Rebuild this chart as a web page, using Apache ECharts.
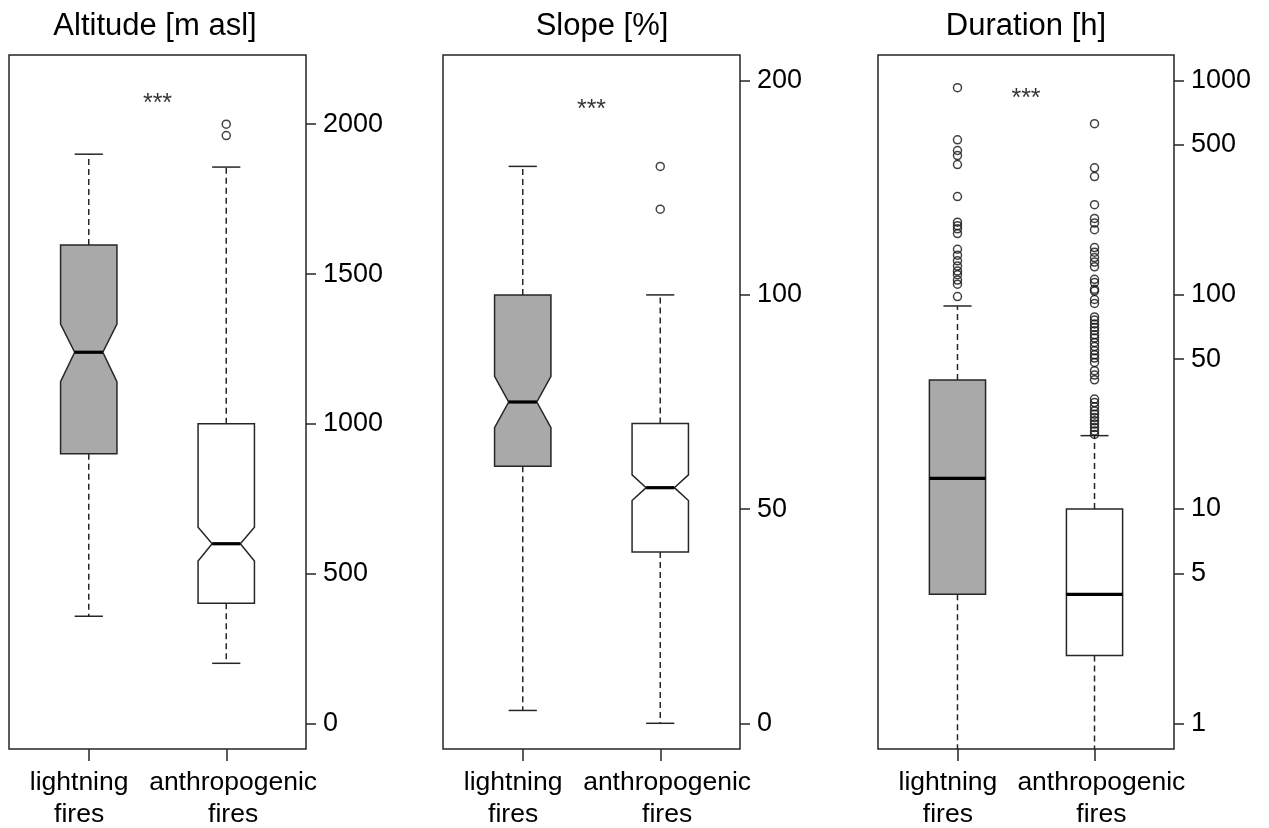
<!DOCTYPE html>
<html>
<head>
<meta charset="utf-8">
<title>Fire characteristics</title>
<script src="https://cdn.jsdelivr.net/npm/echarts@6/dist/echarts.min.js"></script>
<style>
  html, body { margin: 0; padding: 0; background: #fff; }
  #chart { width: 1269px; height: 828px; }
</style>
</head>
<body>
<div id="chart"></div>
<script>
// groups on the x axis (x = 1 and x = 2)
const groups = ['lightning\nfires', 'anthropogenic\nfires']
const groupX = [1, 2]
const titles = ['Altitude [m asl]', 'Slope [%]', 'Duration [h]']

// box stats per group: [lower whisker, Q1, median, Q3, upper whisker]
const altitudeStats = [[358, 900, 1239, 1597, 1900], [201, 401, 600, 1000, 1857]]
const altitudeNotch = [[1141, 1333], [542, 655]]
const altitudeOutliers = [[], [1962, 2000]]

// slope is read in axis units: the top tick (labelled 200) sits at 150
const slopeStats = [[3, 60, 75, 100, 130], [0, 40, 55, 70, 100]]
const slopeNotch = [[69, 81], [52, 58]]
const slopeOutliers = [[], [120, 130]]

const durationStats = [[0.5, 4, 13.9, 40, 88.6], [0.5, 2.07, 4, 10, 22]]
const durationOutliers = [
  [925, 528, 471, 446, 405, 287, 218, 210, 203, 193, 163, 153, 144, 136, 129, 124, 117, 112, 98],
  [628, 391, 356, 263, 227, 216, 201, 166, 158, 149, 142, 135, 118, 114, 106, 104, 95, 91,
   78.8, 76.2, 73.0, 70.4, 67.9, 65.0, 62.8, 59.9, 57.3, 54.7, 52.4, 50.6, 48.3, 44.2, 42.2, 40.1,
   32.6, 31.4, 30.0, 28.7, 27.7, 26.7, 25.8, 24.9, 24.0, 23.1, 22.3]
]

// tick values and labels
const altitudeTicks = [0, 500, 1000, 1500, 2000]
const altitudeTickLabels = ['0', '500', '1000', '1500', '2000']
const slopeTicks = [0, 50, 100, 150]
const slopeTickLabels = ['0', '50', '100', '200']
const durationTicks = [1, 5, 10, 50, 100, 500, 1000]
const durationTickLabels = ['1', '5', '10', '50', '100', '500', '1000']

// significance marks between the groups
const signifText = ['***', '***', '***']
const signifY = [2087, 144.5, 876]

const fills = ['#a9a9a9', '#ffffff']
const INK = '#262626'
const BOX_HALF = 0.205
const LABEL_X = [0.93, 2.05]   // group names sit a little apart from the ticks
const FONT = "'Liberation Sans', Arial, Helvetica, sans-serif"

const panels = [
  { stats: altitudeStats, notch: altitudeNotch, outliers: altitudeOutliers, ticks: altitudeTicks,
    labels: altitudeTickLabels, type: 'value', min: -85, max: 2231,
    grid: { left: 9, top: 55, width: 297, height: 694 }, titleX: 155 },
  { stats: slopeStats, notch: slopeNotch, outliers: slopeOutliers, ticks: slopeTicks,
    labels: slopeTickLabels, type: 'value', min: -6, max: 156,
    grid: { left: 443, top: 55, width: 297, height: 694 }, titleX: 602 },
  { stats: durationStats, notch: null, outliers: durationOutliers, ticks: durationTicks,
    labels: durationTickLabels, type: 'log', min: 0.759, max: 1314,
    grid: { left: 878, top: 55, width: 296, height: 694 }, titleX: 1026 }
]

function renderBox(params, api) {
  const x = api.value(0)
  const low = api.value(1), q1 = api.value(2), med = api.value(3), q3 = api.value(4), high = api.value(5)
  const nlo = api.value(6), nhi = api.value(7)
  const notched = isFinite(nlo) && isFinite(nhi)
  const y = v => api.coord([x, v])[1]
  const cx = api.coord([x, med])[0]
  const L = api.coord([x - BOX_HALF, med])[0]
  const R = api.coord([x + BOX_HALF, med])[0]
  const hw = (R - L) / 2
  const solid = { stroke: INK, lineWidth: 1.5 }
  const dashed = { stroke: INK, lineWidth: 1.5, lineDash: [6, 4] }

  let pts
  if (notched) {
    pts = [[L, y(q1)], [L, y(nlo)], [cx - hw / 2, y(med)], [L, y(nhi)], [L, y(q3)],
           [R, y(q3)], [R, y(nhi)], [cx + hw / 2, y(med)], [R, y(nlo)], [R, y(q1)]]
  } else {
    pts = [[L, y(q1)], [L, y(q3)], [R, y(q3)], [R, y(q1)]]
  }
  const mw = notched ? hw / 2 : hw
  return {
    type: 'group',
    children: [
      { type: 'line', shape: { x1: cx, y1: y(q3), x2: cx, y2: y(high) }, style: dashed },
      { type: 'line', shape: { x1: cx, y1: y(q1), x2: cx, y2: y(low) }, style: dashed },
      { type: 'line', shape: { x1: cx - hw / 2, y1: y(high), x2: cx + hw / 2, y2: y(high) }, style: solid },
      { type: 'line', shape: { x1: cx - hw / 2, y1: y(low), x2: cx + hw / 2, y2: y(low) }, style: solid },
      { type: 'polygon', shape: { points: pts },
        style: { fill: fills[params.dataIndex], stroke: INK, lineWidth: 1.5 } },
      { type: 'line', shape: { x1: cx - mw, y1: y(med), x2: cx + mw, y2: y(med) },
        style: { stroke: '#000', lineWidth: 3.2 } }
    ]
  }
}

const grid = [], xAxis = [], yAxis = [], series = [], graphic = []

panels.forEach((p, i) => {
  grid.push(Object.assign({
    show: true, borderColor: INK, borderWidth: 1.5, backgroundColor: 'transparent',
    containLabel: false, outerBoundsMode: 'none'
  }, p.grid))

  xAxis.push({
    gridIndex: i, type: 'value', min: 0.42, max: 2.58,
    axisLine: { show: false, onZero: false },
    splitLine: { show: false },
    axisTick: { show: true, customValues: groupX, length: 12, lineStyle: { color: INK, width: 1.5 } },
    axisLabel: {
      show: true, customValues: LABEL_X, margin: 18, hideOverlap: false,
      formatter: (v, idx) => {
        let k = LABEL_X.findIndex(t => Math.abs(t - v) < 1e-6)
        if (k < 0) k = idx
        return groups[k] || ''
      },
      fontFamily: FONT, fontSize: 26.5, lineHeight: 32, color: '#000'
    }
  })

  const yAx = {
    gridIndex: i, type: p.type, position: 'right', min: p.min, max: p.max,
    axisLine: { show: false, onZero: false },
    splitLine: { show: false },
    minorTick: { show: false },
    axisTick: { show: true, customValues: p.ticks, length: 10, lineStyle: { color: INK, width: 1.5 } },
    axisLabel: {
      show: true, customValues: p.ticks, margin: 17, hideOverlap: false,
      fontFamily: FONT, fontSize: 27, color: '#000',
      formatter: v => {
        const k = p.ticks.findIndex(t => Math.abs(t - v) < 1e-6 * Math.max(1, Math.abs(t)))
        return k >= 0 ? p.labels[k] : ''
      }
    }
  }
  if (p.type === 'log') yAx.logBase = 10
  yAxis.push(yAx)

  series.push({
    type: 'custom',
    xAxisIndex: i, yAxisIndex: i,
    clip: true,
    renderItem: renderBox,
    data: p.stats.map((s, g) => [groupX[g]].concat(s, p.notch ? p.notch[g] : [])),
    z: 2
  })

  const pts = []
  p.outliers.forEach((arr, g) => arr.forEach(v => pts.push([groupX[g], v])))
  series.push({
    type: 'scatter',
    xAxisIndex: i, yAxisIndex: i,
    symbol: 'circle', symbolSize: 8,
    itemStyle: { color: 'rgba(0,0,0,0)', borderColor: '#111', borderWidth: 1.5 },
    data: pts,
    z: 3
  })

  series.push({
    type: 'scatter',
    xAxisIndex: i, yAxisIndex: i,
    symbolSize: 1,
    itemStyle: { color: 'rgba(0,0,0,0)' },
    label: {
      show: true, position: 'inside', formatter: signifText[i], offset: [0, 6],
      fontFamily: FONT, fontSize: 25, color: '#000'
    },
    data: [[1.5, signifY[i]]],
    z: 4
  })

  graphic.push({
    type: 'text', x: p.titleX, y: 26,
    style: { text: titles[i], fontFamily: FONT, fontSize: 31, fill: '#000',
             textAlign: 'center', textVerticalAlign: 'middle' }
  })
})

const chart = echarts.init(document.getElementById('chart'), null, { renderer: 'canvas' })
chart.setOption({
  backgroundColor: '#fff',
  animation: false,
  grid, xAxis, yAxis, series, graphic
})
</script>
</body>
</html>
